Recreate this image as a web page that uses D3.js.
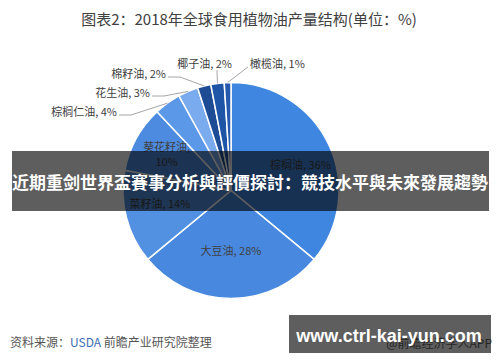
<!DOCTYPE html>
<html>
<head>
<meta charset="utf-8">
<script src="https://cdn.jsdelivr.net/npm/d3@7"></script>
<style>
  body { margin: 0; background: #fff; }
  svg { display: block; font-family: "Noto Sans CJK SC", "Liberation Sans", sans-serif; }
</style>
</head>
<body>
<div id="chart"></div>
<script>
////////////////////////////////////////////////////////////////////////
// data

let oils = ["棕榈油", "大豆油", "菜籽油", "葵花籽油", "棕榈仁油", "花生油", "棉籽油", "椰子油", "橄榄油"];
let shares = [36, 28, 14, 10, 4, 3, 2, 2, 1];
let oilColors = ["#3e86e0", "#4889df", "#5290e2", "#4d8be0", "#5b98e8", "#7aabee", "#1e4c94", "#1f55a7", "#2459ae"];

let titleText = "图表2：2018年全球食用植物油产量结构(单位：%)";
let bannerText = "近期重剑世界盃賽事分析與評價探討：競技水平與未來發展趨勢";
let linkText = "www.ctrl-kai-yun.com";

////////////////////////////////////////////////////////////////////////
// layout

let width = 500, height = 362;
let cx = 231, cy = 190.5, radius = 108;

// where the small slices put their labels (outside the pie)
let outside = {
  "棕榈仁油": { x: 117, y: 112, anchor: "end" },
  "花生油":   { x: 150, y: 93,  anchor: "end" },
  "棉籽油":   { x: 166, y: 74,  anchor: "end" },
  "椰子油":   { x: 232, y: 64,  anchor: "end" },
  "橄榄油":   { x: 250, y: 64,  anchor: "start" }
};

let svg = d3.select("#chart").append("svg")
  .attr("width", width)
  .attr("height", height);

svg.append("text")
  .attr("x", 249).attr("y", 25)
  .attr("text-anchor", "middle")
  .attr("font-size", 15)
  .attr("fill", "#404040")
  .text(titleText);

let rows = oils.map(function(d, i) { return { name: d, value: shares[i], color: oilColors[i] }; });

let pie = d3.pie().sort(null).value(function(d) { return d.value; });
let arcs = pie(rows);
let arc = d3.arc().innerRadius(0).outerRadius(radius);

let g = svg.append("g").attr("transform", "translate(" + cx + "," + cy + ")");

g.selectAll("path.slice")
  .data(arcs)
  .enter()
  .append("path")
  .attr("class", "slice")
  .attr("d", arc)
  .attr("fill", function(d) { return d.data.color; })
  .attr("stroke", "#fff")
  .attr("stroke-width", 1.5);

// labels inside the big slices
let inner = d3.arc().innerRadius(radius * 0.68).outerRadius(radius * 0.68);
arcs.filter(function(d) { return !outside[d.data.name]; }).forEach(function(d) {
  let c = inner.centroid(d);
  if (d.data.name == "大豆油") c = [c[0], c[1] - 13];
  if (d.data.name == "菜籽油") c = [c[0], c[1] - 5];
  if (d.data.name == "棕榈油") c = [c[0] + 3, c[1] + 6];
  let t = g.append("text")
    .attr("x", c[0]).attr("y", c[1])
    .attr("text-anchor", "middle")
    .attr("font-size", 11)
    .attr("fill", "#404040");
  if (d.data.name == "葵花籽油") {
    t.append("tspan").attr("x", c[0]).attr("dy", "-0.35em").text(d.data.name + ",");
    t.append("tspan").attr("x", c[0]).attr("dy", "1.35em").text(d.data.value + "%");
  } else {
    t.attr("dy", "0.35em").text(d.data.name + ", " + d.data.value + "%");
  }
});

// labels + leader lines for the small slices
let edge = d3.arc().innerRadius(radius).outerRadius(radius);
arcs.filter(function(d) { return outside[d.data.name]; }).forEach(function(d) {
  let L = outside[d.data.name];
  let e = edge.centroid(d);
  let ex = e[0] + cx, ey = e[1] + cy;
  let pts;
  if (d.data.name == "椰子油") {
    pts = [[217, L.y + 6], [ex, ey]];
  } else if (d.data.name == "橄榄油") {
    pts = [[L.x - 2, L.y + 3], [ex, ey]];
  } else {
    pts = [[L.x + 2, L.y + 3], [L.x + 14, L.y + 3], [ex, ey]];
  }
  svg.append("path")
    .attr("d", d3.line()(pts))
    .attr("fill", "none")
    .attr("stroke", "#a6a6a6")
    .attr("stroke-width", 1);
  svg.append("text")
    .attr("x", L.x).attr("y", L.y)
    .attr("dy", "0.35em")
    .attr("text-anchor", L.anchor)
    .attr("font-size", 11)
    .attr("fill", "#404040")
    .text(d.data.name + ", " + d.data.value + "%");
});

// source line
let src = svg.append("text")
  .attr("x", 10).attr("y", 347)
  .attr("font-size", 12)
  .attr("fill", "#555");
src.append("tspan").text("资料来源：");
src.append("tspan").attr("fill", "#3d6db5").text("USDA ");
src.append("tspan").text("前瞻产业研究院整理");

svg.append("text")
  .attr("x", 492).attr("y", 348)
  .attr("text-anchor", "end")
  .attr("font-size", 12)
  .attr("fill", "#666")
  .text("@前瞻经济学人APP");

////////////////////////////////////////////////////////////////////////
// overlays

svg.append("rect")
  .attr("x", 12).attr("y", 151)
  .attr("width", 477).attr("height", 60)
  .attr("fill", "#000")
  .attr("fill-opacity", 0.63);

svg.append("text")
  .attr("x", 250).attr("y", 183)
  .attr("dy", "0.35em")
  .attr("text-anchor", "middle")
  .attr("font-size", 17)
  .attr("font-weight", "bold")
  .attr("fill", "#fff")
  .text(bannerText);

svg.append("rect")
  .attr("x", 289).attr("y", 315)
  .attr("width", 202).attr("height", 38)
  .attr("fill", "#000")
  .attr("fill-opacity", 0.63);

svg.append("text")
  .attr("x", 389).attr("y", 342)
  .attr("text-anchor", "middle")
  .attr("font-family", "Liberation Sans, Arial, sans-serif")
  .attr("font-size", 18)
  .attr("font-weight", "bold")
  .attr("fill", "#fff")
  .text(linkText);
</script>
</body>
</html>
